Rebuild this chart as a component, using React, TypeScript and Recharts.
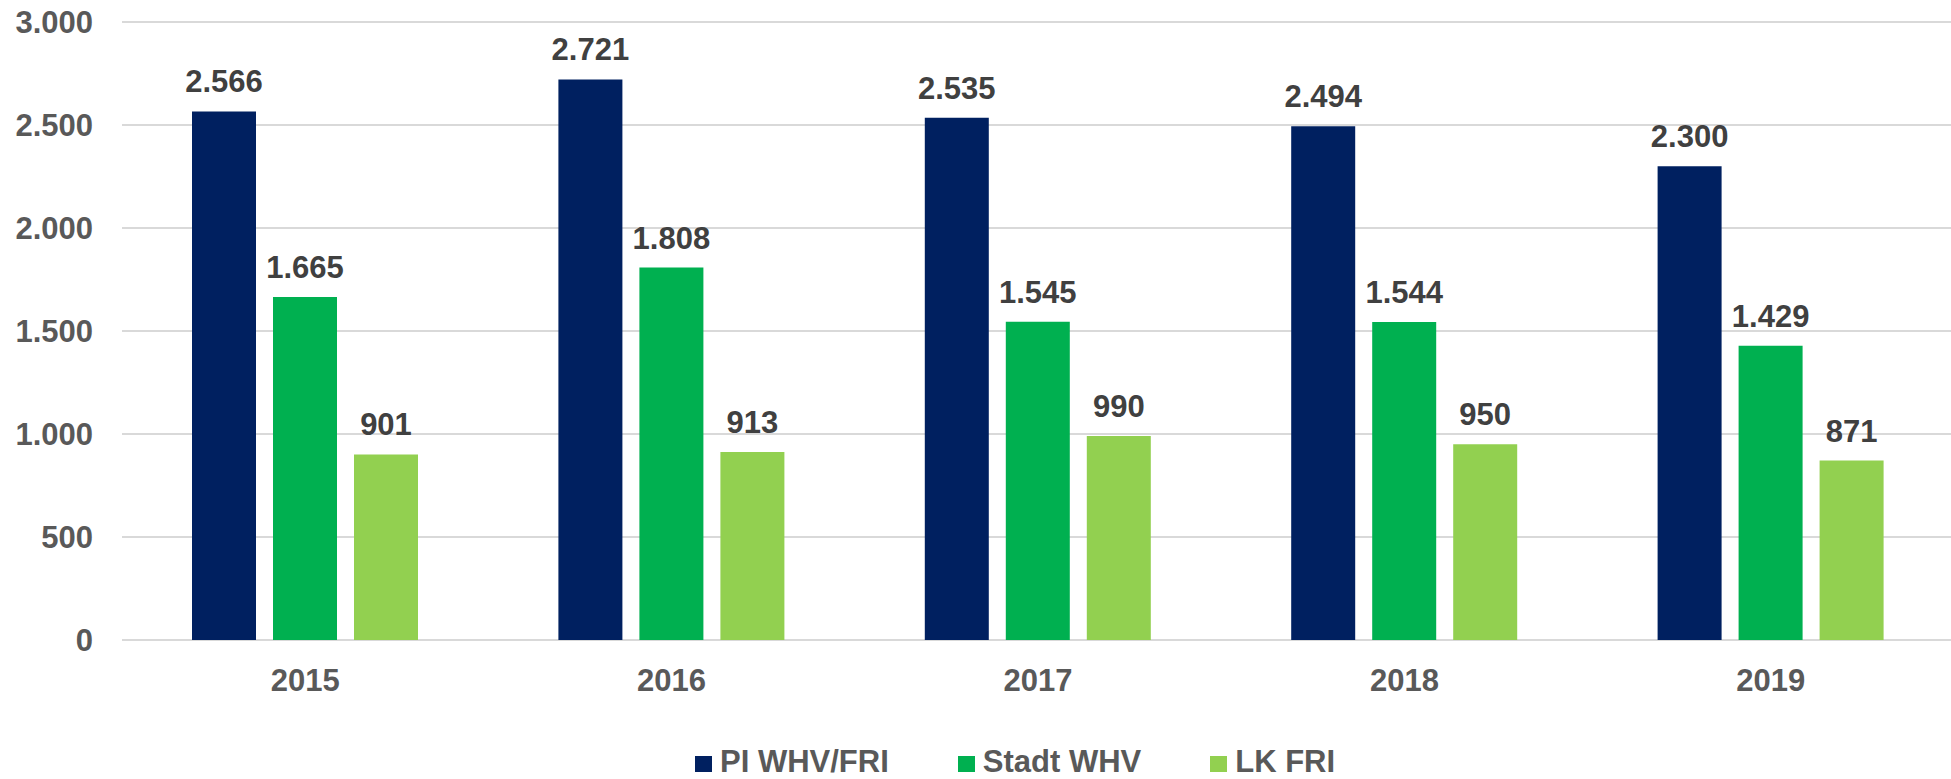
import React from "react";
import { BarChart, Bar, XAxis, YAxis, CartesianGrid, LabelList } from "recharts";

const years = ["2015", "2016", "2017", "2018", "2019"];
const piWhvFri = [2566, 2721, 2535, 2494, 2300];
const stadtWhv = [1665, 1808, 1545, 1544, 1429];
const lkFri = [901, 913, 990, 950, 871];
const yTicks = [0, 500, 1000, 1500, 2000, 2500, 3000];

const seriesNames = ["PI WHV/FRI", "Stadt WHV", "LK FRI"];
const seriesKeys = ["pi", "stadt", "lk"];
const seriesColors = ["#002060", "#00B050", "#92D050"];

const data = years.map((y, i) => ({ year: y, pi: piWhvFri[i], stadt: stadtWhv[i], lk: lkFri[i] }));

const fmt = (v: number) => v.toLocaleString("de-DE");
const FONT = "'Liberation Sans', Arial, sans-serif";

export default function App() {
  return (
    <div style={{ position: "absolute", left: 0, top: 0, width: 1951, height: 779, fontFamily: FONT, background: "#fff", overflow: "hidden" }}>
      <BarChart
        width={1954}
        height={779}
        data={data}
        margin={{ top: 22, right: 0, left: 0, bottom: 0 }}
        barSize={64}
        barGap={17}
      >
        <CartesianGrid vertical={false} stroke="#D9D9D9" strokeWidth={2} />
        <XAxis
          dataKey="year"
          height={139}
          axisLine={false}
          tickLine={false}
          tickSize={0}
          tickMargin={29}
          tick={{ fill: "#595959", fontSize: 31, fontWeight: "bold", fontFamily: FONT }}
        />
        <YAxis
          width={122}
          domain={[0, 3000]}
          ticks={yTicks}
          axisLine={false}
          tickLine={false}
          tickSize={0}
          tickMargin={29}
          tickFormatter={fmt}
          tick={{ fill: "#595959", fontSize: 31, fontWeight: "bold", fontFamily: FONT }}
        />
        {seriesKeys.map((k, i) => (
          <Bar key={k} dataKey={k} name={seriesNames[i]} fill={seriesColors[i]} isAnimationActive={false}>
            <LabelList
              dataKey={k}
              position="top"
              offset={19}
              formatter={(v: any) => fmt(Number(v))}
              style={{ fill: "#404040", fontSize: 31, fontWeight: "bold", fontFamily: FONT }}
            />
          </Bar>
        ))}
      </BarChart>
      <div style={{ position: "absolute", left: 695, top: 748, height: 28, display: "flex", alignItems: "center", whiteSpace: "nowrap" }}>
        {seriesNames.map((n, i) => (
          <div key={n} style={{ display: "flex", alignItems: "center", height: 28, marginRight: i < seriesNames.length - 1 ? 69 : 0 }}>
            <span style={{ display: "inline-block", width: 17, height: 16, background: seriesColors[i], marginRight: 8, position: "relative", top: 2 }} />
            <span style={{ fontSize: 31, fontWeight: "bold", color: "#595959", lineHeight: "28px" }}>{n}</span>
          </div>
        ))}
      </div>
    </div>
  );
}
